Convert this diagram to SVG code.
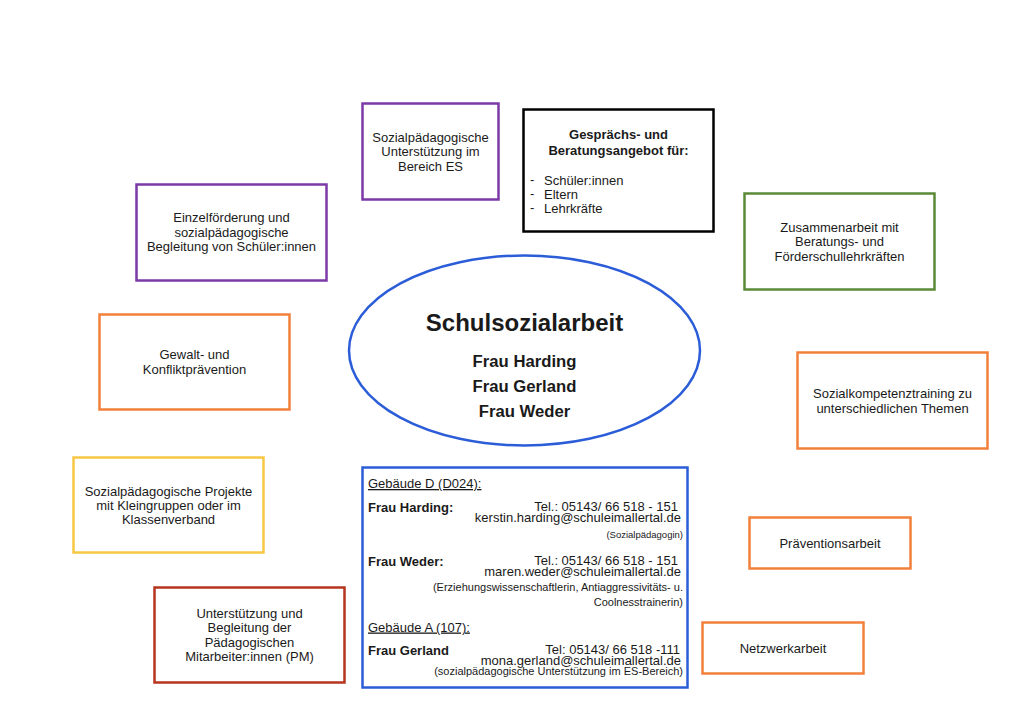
<svg xmlns="http://www.w3.org/2000/svg" width="1024" height="724" viewBox="0 0 1024 724">
  <style>
    text { font-family: "Liberation Sans", Arial, Helvetica, sans-serif; fill: #1a1a1a; }
    .t { font-size: 13px; text-anchor: middle; }
    .b { font-weight: bold; }
    .l { font-size: 13px; text-anchor: start; }
    .r { font-size: 13px; text-anchor: end; }
    .s { font-size: 11px; text-anchor: end; }
    .box { fill: #ffffff; stroke-width: 2.5; }
    .purple { stroke: #7B3AA6; }
    .black { stroke: #000000; }
    .orange { stroke: #F2803B; }
    .yellow { stroke: #F6C843; }
    .red { stroke: #B6351F; }
    .green { stroke: #5B8A37; }
    .blue { stroke: #2C5DD8; }
  </style>
  <rect width="1024" height="724" fill="#ffffff"/>
  <g id="connectors"/>

  <g id="node-center">
    <ellipse cx="524.5" cy="350.5" rx="175.5" ry="95" class="box blue"/>
    <text x="524.5" y="331" class="b" style="font-size:24px;text-anchor:middle">Schulsozialarbeit</text>
    <text x="524.5" y="367" class="b" style="font-size:16.7px;text-anchor:middle">Frau Harding</text>
    <text x="524.5" y="392" class="b" style="font-size:16.7px;text-anchor:middle">Frau Gerland</text>
    <text x="524.5" y="417" class="b" style="font-size:16.7px;text-anchor:middle">Frau Weder</text>
  </g>

  <g id="node-es">
    <rect x="362.5" y="103.5" width="136" height="96" class="box purple"/>
    <text x="430.5" y="141.5" class="t">Sozialpädagogische</text>
    <text x="430.5" y="156" class="t">Unterstützung im</text>
    <text x="430.5" y="170.5" class="t">Bereich ES</text>
  </g>

  <g id="node-beratung">
    <rect x="523.5" y="109.5" width="190" height="122" class="box black"/>
    <text x="618.5" y="139" class="t b">Gesprächs- und</text>
    <text x="618.5" y="155" class="t b">Beratungsangebot für:</text>
    <text x="530" y="184" class="l">-</text>
    <text x="544" y="185" class="l">Schüler:innen</text>
    <text x="530" y="198" class="l">-</text>
    <text x="544" y="199" class="l">Eltern</text>
    <text x="530" y="212" class="l">-</text>
    <text x="544" y="213" class="l">Lehrkräfte</text>
  </g>

  <g id="node-einzel">
    <rect x="136.5" y="184.5" width="190" height="96" class="box purple"/>
    <text x="231.5" y="221.5" class="t">Einzelförderung und</text>
    <text x="231.5" y="236.5" class="t">sozialpädagogische</text>
    <text x="231.5" y="251" class="t">Begleitung von Schüler:innen</text>
  </g>

  <g id="node-gewalt">
    <rect x="99.5" y="314.5" width="190" height="95" class="box orange"/>
    <text x="194.5" y="359" class="t">Gewalt- und</text>
    <text x="194.5" y="373.5" class="t">Konfliktprävention</text>
  </g>

  <g id="node-projekte">
    <rect x="73.5" y="457.5" width="190" height="95" class="box yellow"/>
    <text x="168.5" y="495.5" class="t">Sozialpädagogische Projekte</text>
    <text x="168.5" y="509.5" class="t">mit Kleingruppen oder im</text>
    <text x="168.5" y="524" class="t">Klassenverband</text>
  </g>

  <g id="node-pm">
    <rect x="154.5" y="587.5" width="190" height="95" class="box red"/>
    <text x="249.5" y="617.5" class="t">Unterstützung und</text>
    <text x="249.5" y="632" class="t">Begleitung der</text>
    <text x="249.5" y="646.5" class="t">Pädagogischen</text>
    <text x="249.5" y="661" class="t">Mitarbeiter:innen (PM)</text>
  </g>

  <g id="node-zusammen">
    <rect x="744.5" y="193.5" width="190" height="96" class="box green"/>
    <text x="839.5" y="231.5" class="t">Zusammenarbeit mit</text>
    <text x="839.5" y="246" class="t">Beratungs- und</text>
    <text x="839.5" y="260.5" class="t">Förderschullehrkräften</text>
  </g>

  <g id="node-sozialkompetenz">
    <rect x="797.5" y="352.5" width="190" height="96" class="box orange"/>
    <text x="892.5" y="398" class="t">Sozialkompetenztraining zu</text>
    <text x="892.5" y="412.5" class="t">unterschiedlichen Themen</text>
  </g>

  <g id="node-praevention">
    <rect x="749.5" y="517.5" width="161" height="51" class="box orange"/>
    <text x="830" y="547.5" class="t">Präventionsarbeit</text>
  </g>

  <g id="node-netzwerk">
    <rect x="702.5" y="622.5" width="161" height="51" class="box orange"/>
    <text x="783" y="652.5" class="t">Netzwerkarbeit</text>
  </g>

  <g id="node-kontakt">
    <rect x="362.5" y="467.5" width="325" height="220" class="box blue"/>
    <text x="368" y="488" class="l" text-decoration="underline">Gebäude D (D024):</text>
    <text x="368" y="511.5" class="l b">Frau Harding:</text>
    <text x="678" y="511" class="r">Tel.: 05143/ 66 518 - 151</text>
    <text x="681" y="522" class="r">kerstin.harding@schuleimallertal.de</text>
    <text x="683" y="538" class="s" style="font-size:9.5px">(Sozialpädagogin)</text>

    <text x="368" y="566" class="l b">Frau Weder:</text>
    <text x="678" y="565" class="r">Tel.: 05143/ 66 518 - 151</text>
    <text x="681" y="576" class="r">maren.weder@schuleimallertal.de</text>
    <text x="683" y="591" class="s">(Erziehungswissenschaftlerin, Antiaggressivitäts- u.</text>
    <text x="683" y="606" class="s">Coolnesstrainerin)</text>

    <text x="368" y="631.5" class="l" text-decoration="underline">Gebäude A (107):</text>
    <text x="368" y="654.5" class="l b">Frau Gerland</text>
    <text x="680" y="654" class="r">Tel: 05143/ 66 518 -111</text>
    <text x="681" y="664.5" class="r">mona.gerland@schuleimallertal.de</text>
    <text x="683" y="675" class="s">(sozialpädagogische Unterstützung im ES-Bereich)</text>
  </g>
</svg>
